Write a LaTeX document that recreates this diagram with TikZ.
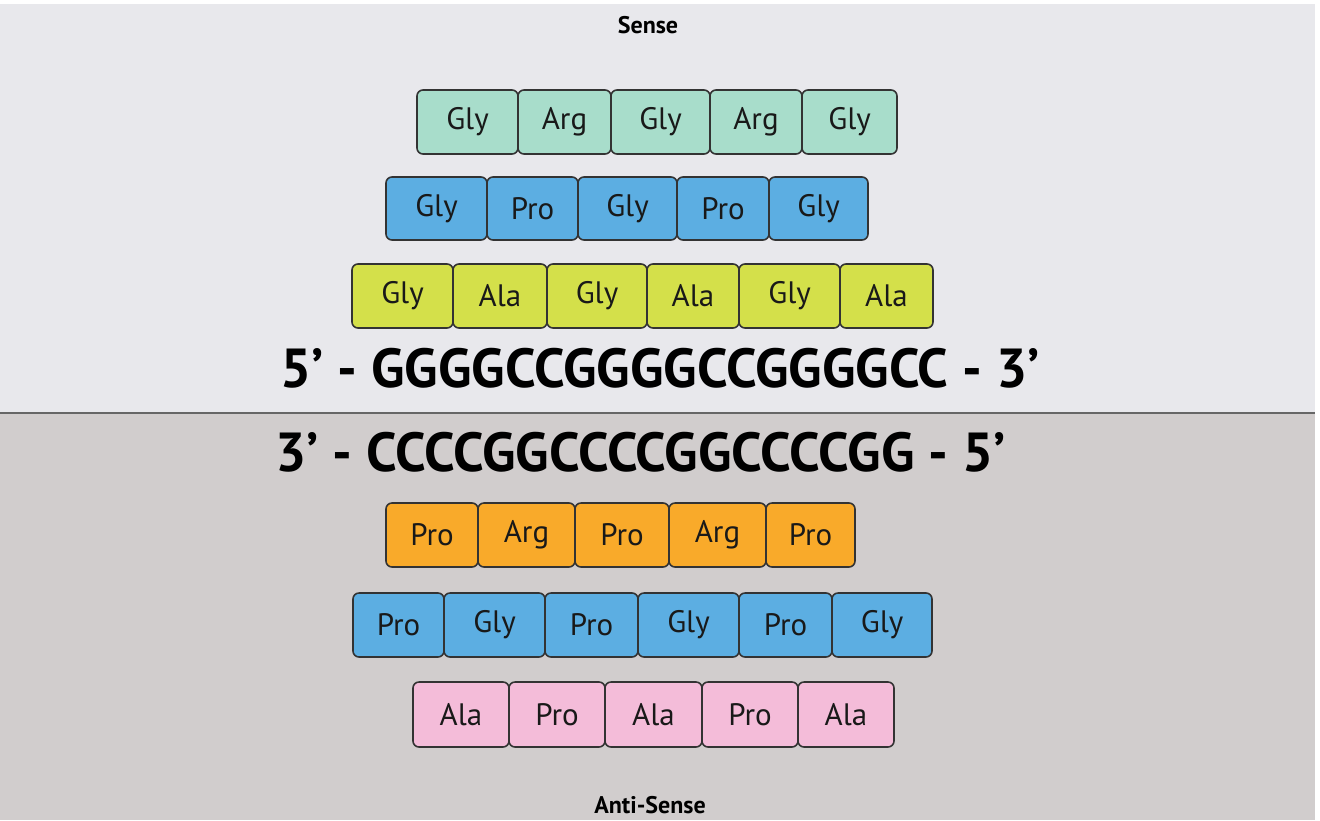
\documentclass[tikz,border=0pt]{standalone}
\usepackage{fontspec}
\setmainfont{PT Sans}
\definecolor{bgtop}{HTML}{E8E8EC}
\definecolor{bgbot}{HTML}{D1CDCD}
\definecolor{teal}{HTML}{A8DDCB}
\definecolor{bluebox}{HTML}{5CAEE2}
\definecolor{greenbox}{HTML}{D4E04A}
\definecolor{orangebox}{HTML}{F9AA2A}
\definecolor{pinkbox}{HTML}{F4BCD9}
\definecolor{edge}{HTML}{333333}
\newcommand{\pbox}[7]{\node[aabox, fill=#6, minimum width=#3*0.5pt, minimum height=#5*0.5pt] (#1) at (#2,#4) {#7};}
\begin{document}
\begin{tikzpicture}[x=0.5pt,y=-0.5pt,
  aabox/.style={draw=edge, line width=0.8pt, rounded corners=3pt, inner sep=0pt, outer sep=0pt, font=\fontsize{15.5}{17}\selectfont, text=black!90},
  dna/.style={font=\fontsize{27.5}{30}\selectfont\bfseries, anchor=base, inner sep=0pt},
  side/.style={font=\fontsize{12}{14}\selectfont\bfseries, inner sep=0pt}]
\useasboundingbox (0,0) rectangle (1320,820);
\fill[bgtop] (0,4) rectangle (1315,413);
\fill[bgbot] (0,413) rectangle (1315,820);
\draw[line width=0.8pt, draw=black!60] (0,413) -- (1315,413);
\node[side] (sense) at (648,25) {Sense};
\node[side] (anti) at (650,805) {Anti-Sense};
% row 1
\pbox{a1}{467.5}{101}{122}{64}{teal}{Gly}
\pbox{a2}{564.5}{93}{122}{64}{teal}{Arg}
\pbox{a3}{660.5}{99}{122}{64}{teal}{Gly}
\pbox{a4}{756}{92}{122}{64}{teal}{Arg}
\pbox{a5}{849.5}{95}{122}{64}{teal}{Gly}
% row 2
\pbox{b1}{436.5}{101}{208.5}{63}{bluebox}{Gly}
\pbox{b2}{532.5}{91}{208.5}{63}{bluebox}{Pro}
\pbox{b3}{627.5}{99}{208.5}{63}{bluebox}{Gly}
\pbox{b4}{723}{92}{208.5}{63}{bluebox}{Pro}
\pbox{b5}{818.5}{99}{208.5}{63}{bluebox}{Gly}
% row 3
\pbox{c1}{402.5}{101}{296}{64}{greenbox}{Gly}
\pbox{c2}{500}{94}{296}{64}{greenbox}{Ala}
\pbox{c3}{597}{100}{296}{64}{greenbox}{Gly}
\pbox{c4}{693}{92}{296}{64}{greenbox}{Ala}
\pbox{c5}{789.5}{101}{296}{64}{greenbox}{Gly}
\pbox{c6}{886.5}{93}{296}{64}{greenbox}{Ala}
% DNA
\node[dna] (sensestrand) at (660,387) {5’ - GGGGCCGGGGCCGGGGCC - 3’};
\node[dna] (antistrand) at (640.5,471) {3’ - CCCCGGCCCCGGCCCCGG - 5’};
% row 4
\pbox{d1}{432}{92}{535}{64}{orangebox}{Pro}
\pbox{d2}{526.5}{97}{535}{64}{orangebox}{Arg}
\pbox{d3}{622}{94}{535}{64}{orangebox}{Pro}
\pbox{d4}{717.5}{97}{535}{64}{orangebox}{Arg}
\pbox{d5}{810.5}{89}{535}{64}{orangebox}{Pro}
% row 5
\pbox{e1}{398.5}{91}{625}{64}{bluebox}{Pro}
\pbox{e2}{494.5}{101}{625}{64}{bluebox}{Gly}
\pbox{e3}{591.5}{93}{625}{64}{bluebox}{Pro}
\pbox{e4}{688.5}{101}{625}{64}{bluebox}{Gly}
\pbox{e5}{785.5}{93}{625}{64}{bluebox}{Pro}
\pbox{e6}{882}{100}{625}{64}{bluebox}{Gly}
% row 6
\pbox{f1}{461}{96}{714.5}{65}{pinkbox}{Ala}
\pbox{f2}{557}{96}{714.5}{65}{pinkbox}{Pro}
\pbox{f3}{653.5}{97}{714.5}{65}{pinkbox}{Ala}
\pbox{f4}{750}{96}{714.5}{65}{pinkbox}{Pro}
\pbox{f5}{846}{96}{714.5}{65}{pinkbox}{Ala}
\end{tikzpicture}
\end{document}
